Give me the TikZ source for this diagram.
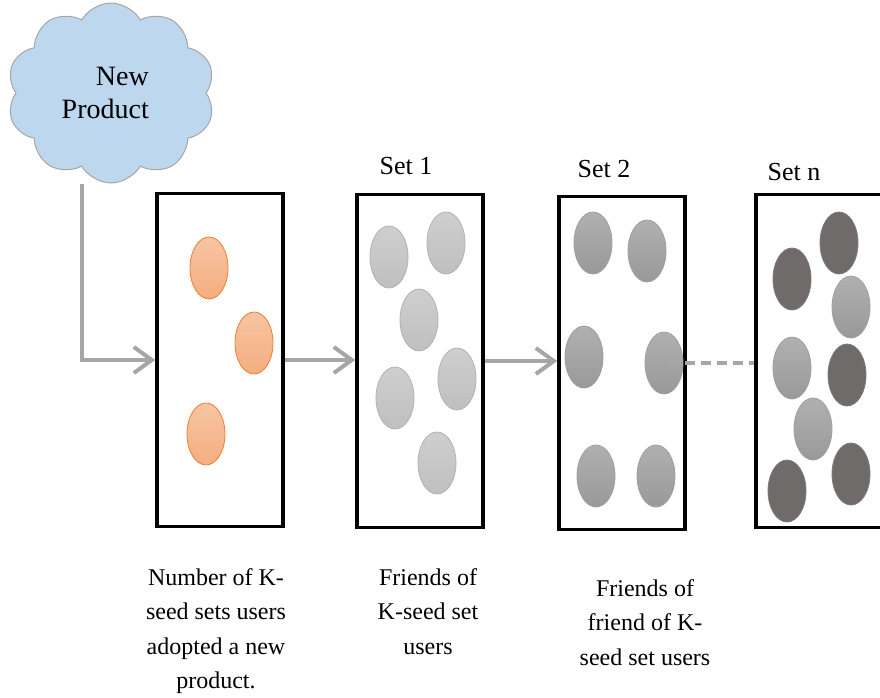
\documentclass[tikz,border=0pt]{standalone}
\usepackage{fontspec}
\setmainfont{Liberation Serif}
\usetikzlibrary{arrows.meta,shapes.geometric,shapes.symbols}

\definecolor{cloudblue}{HTML}{BDD7EE}
\definecolor{linegray}{HTML}{A6A6A6}
\definecolor{seedorange}{HTML}{ED7D31}
\definecolor{darkuser}{HTML}{706B6B}

\begin{document}
\begin{tikzpicture}[
  x=1pt, y=-1pt,
  setbox/.style={draw, line width=3.5pt, minimum width=126pt, minimum height=333pt, inner sep=0pt},
  user/.style={ellipse, minimum width=38pt, minimum height=62pt, inner sep=0pt, line width=0.8pt},
  seed/.style={user, draw=seedorange, top color=seedorange!45, bottom color=seedorange!62},
  friend/.style={user, draw=gray!60, top color=gray!38, bottom color=gray!50},
  friend2/.style={user, draw=gray!75, top color=gray!62, bottom color=gray!80},
  farfriend/.style={user, draw=darkuser!90, fill=darkuser},
  caption/.style={align=center, font=\fontsize{24}{34.5}\selectfont, inner sep=0pt, anchor=base},
  setlabel/.style={font=\fontsize{26}{30}\selectfont, inner sep=0pt, anchor=base},
  flow/.style={draw=linegray, line width=4pt, -{Straight Barb[length=18pt, width=26pt, line width=4pt]}}
]
\useasboundingbox (0,0) rectangle (880,697);
\clip (0,0) rectangle (880,697);

% the new product
\node[cloud, cloud puffs=10, cloud puff arc=120, cloud ignores aspect,
      minimum width=208pt, minimum height=180pt, inner sep=0pt,
      draw=gray!70, line width=1pt, fill=cloudblue] (product) at (111,93) {};
\node[align=right, font=\fontsize{28}{33}\selectfont, inner sep=0pt, anchor=base east]
  (productlabel) at (149,118) {New\\Product};

% the sets of users
\node[setbox] (seedset) at (220,360) {};
\node[setbox] (set1) at (420,361) {};
\node[setbox] (set2) at (622,363) {};
\node[setbox] (setn) at (819,361) {};

\node[setlabel] (set1label) at (406,174) {Set 1};
\node[setlabel] (set2label) at (604,177) {Set 2};
\node[setlabel] (setnlabel) at (794,180) {Set n};

% K-seed users
\node[seed] (s1) at (209,268) {};
\node[seed] (s2) at (254,343) {};
\node[seed] (s3) at (206,434) {};

% friends of the seed users
\node[friend] (f1) at (389,257) {};
\node[friend] (f2) at (446,243) {};
\node[friend] (f3) at (419,320) {};
\node[friend] (f4) at (457,379) {};
\node[friend] (f5) at (395,398) {};
\node[friend] (f6) at (437,463) {};

% friends of friends
\node[friend2] (g1) at (593,243) {};
\node[friend2] (g2) at (647,251) {};
\node[friend2] (g3) at (584,357) {};
\node[friend2] (g4) at (664,363) {};
\node[friend2] (g5) at (596,476) {};
\node[friend2] (g6) at (656,476) {};

% set n
\node[farfriend] (h1) at (792,279) {};
\node[farfriend] (h2) at (839,243) {};
\node[friend2] (h3) at (851,307) {};
\node[friend2] (h4) at (792,368) {};
\node[farfriend] (h5) at (847,375) {};
\node[friend2] (h6) at (813,429) {};
\node[farfriend] (h7) at (787,491) {};
\node[farfriend] (h8) at (851,474) {};

% connectors
\coordinate (drop) at (82,184);
\draw[flow] (drop) |- (seedset.west);
\draw[flow] (seedset.east) -- (seedset.east -| set1.west);
\draw[flow] (set1.east) -- (set1.east -| set2.west);
\draw[draw=linegray, line width=4pt, dash pattern=on 10pt off 6pt, shorten <=-14pt]
  (g4.east) -- (setn.west |- g4.east);

% captions (anchored on the last line)
\node[caption] (seedtext) at (216,688.5)
  {Number of K-\\seed sets users\\adopted a new\\product.};
\node[caption] (set1text) at (428,654)
  {Friends of\\K-seed set\\users};
\node[caption] (set2text) at (645,665)
  {Friends of\\friend of K-\\seed set users};
\end{tikzpicture}
\end{document}
